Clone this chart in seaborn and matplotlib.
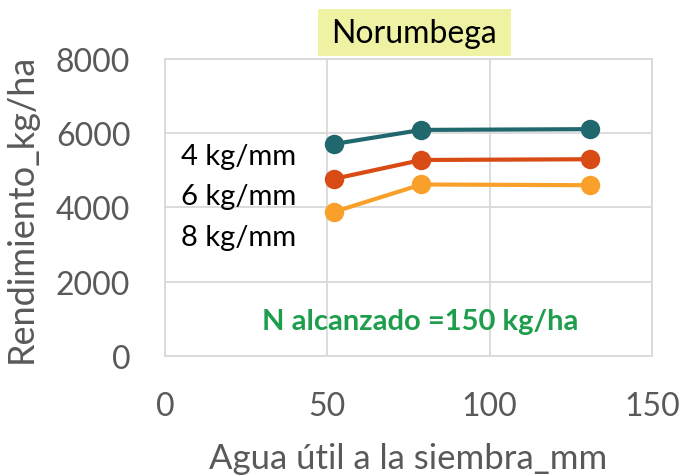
import pandas as pd
import matplotlib.pyplot as plt
from matplotlib.patches import Rectangle
import seaborn as sns

# Data
agua = [52, 79, 131]
rend_4 = [5710, 6090, 6110]
rend_6 = [4770, 5280, 5300]
rend_8 = [3880, 4620, 4600]
series = ["4 kg/mm", "6 kg/mm", "8 kg/mm"]
colores = ["#21676E", "#D84B14", "#F9A02A"]

x_ticks = [0, 50, 100, 150]
y_ticks = [0, 2000, 4000, 6000, 8000]

df = pd.DataFrame({
    "agua": agua * 3,
    "rend": rend_4 + rend_6 + rend_8,
    "serie": [s for s in series for _ in agua],
})

sns.set_style("white")
plt.rcParams["font.family"] = ["Lato", "DejaVu Sans"]

fig = plt.figure(figsize=(6.83, 4.77), dpi=100)
ax = fig.add_axes([0.2416, 0.2516, 0.713, 0.6226])

sns.lineplot(
    data=df, x="agua", y="rend", hue="serie",
    palette=colores, marker="o", markersize=14, markeredgewidth=0,
    linewidth=3, legend=False, ax=ax,
)

ax.set_xlim(0, 150)
ax.set_ylim(0, 8000)
ax.set_xticks(x_ticks)
ax.set_yticks(y_ticks)
ax.grid(True, color="#D9D9D9", linewidth=1.3)
ax.set_axisbelow(True)
for s in ax.spines.values():
    s.set_color("#D9D9D9")
    s.set_linewidth(1.3)
ax.tick_params(axis="both", labelsize=23, labelcolor="#595959", length=0, pad=25)

ax.set_xlabel("Agua útil a la siembra_mm", fontsize=25, color="#595959")
ax.set_ylabel("Rendimiento_kg/ha", fontsize=26, color="#595959")
ax.xaxis.set_label_coords(0.5, -0.29)
ax.yaxis.set_label_coords(-0.262, 0.5)

# series labels
for s, y in zip(series, [5390, 4310, 3210]):
    ax.text(5, y, s, fontsize=21, color="black", va="center", ha="left")

ax.text(78.5, 940, "N alcanzado =150 kg/ha", fontsize=21, fontweight="bold",
        color="#1E9E4C", ha="center", va="center")

# title box
fig.patches.append(Rectangle((318 / 683, 1 - 57 / 477), 193 / 683, 47 / 477,
                             transform=fig.transFigure, facecolor="#EEF2A2",
                             edgecolor="none", zorder=0))
fig.text(414 / 683, 1 - 34 / 477, "Norumbega", fontsize=23, color="black",
         ha="center", va="center")

plt.savefig("out.png", dpi=100)
